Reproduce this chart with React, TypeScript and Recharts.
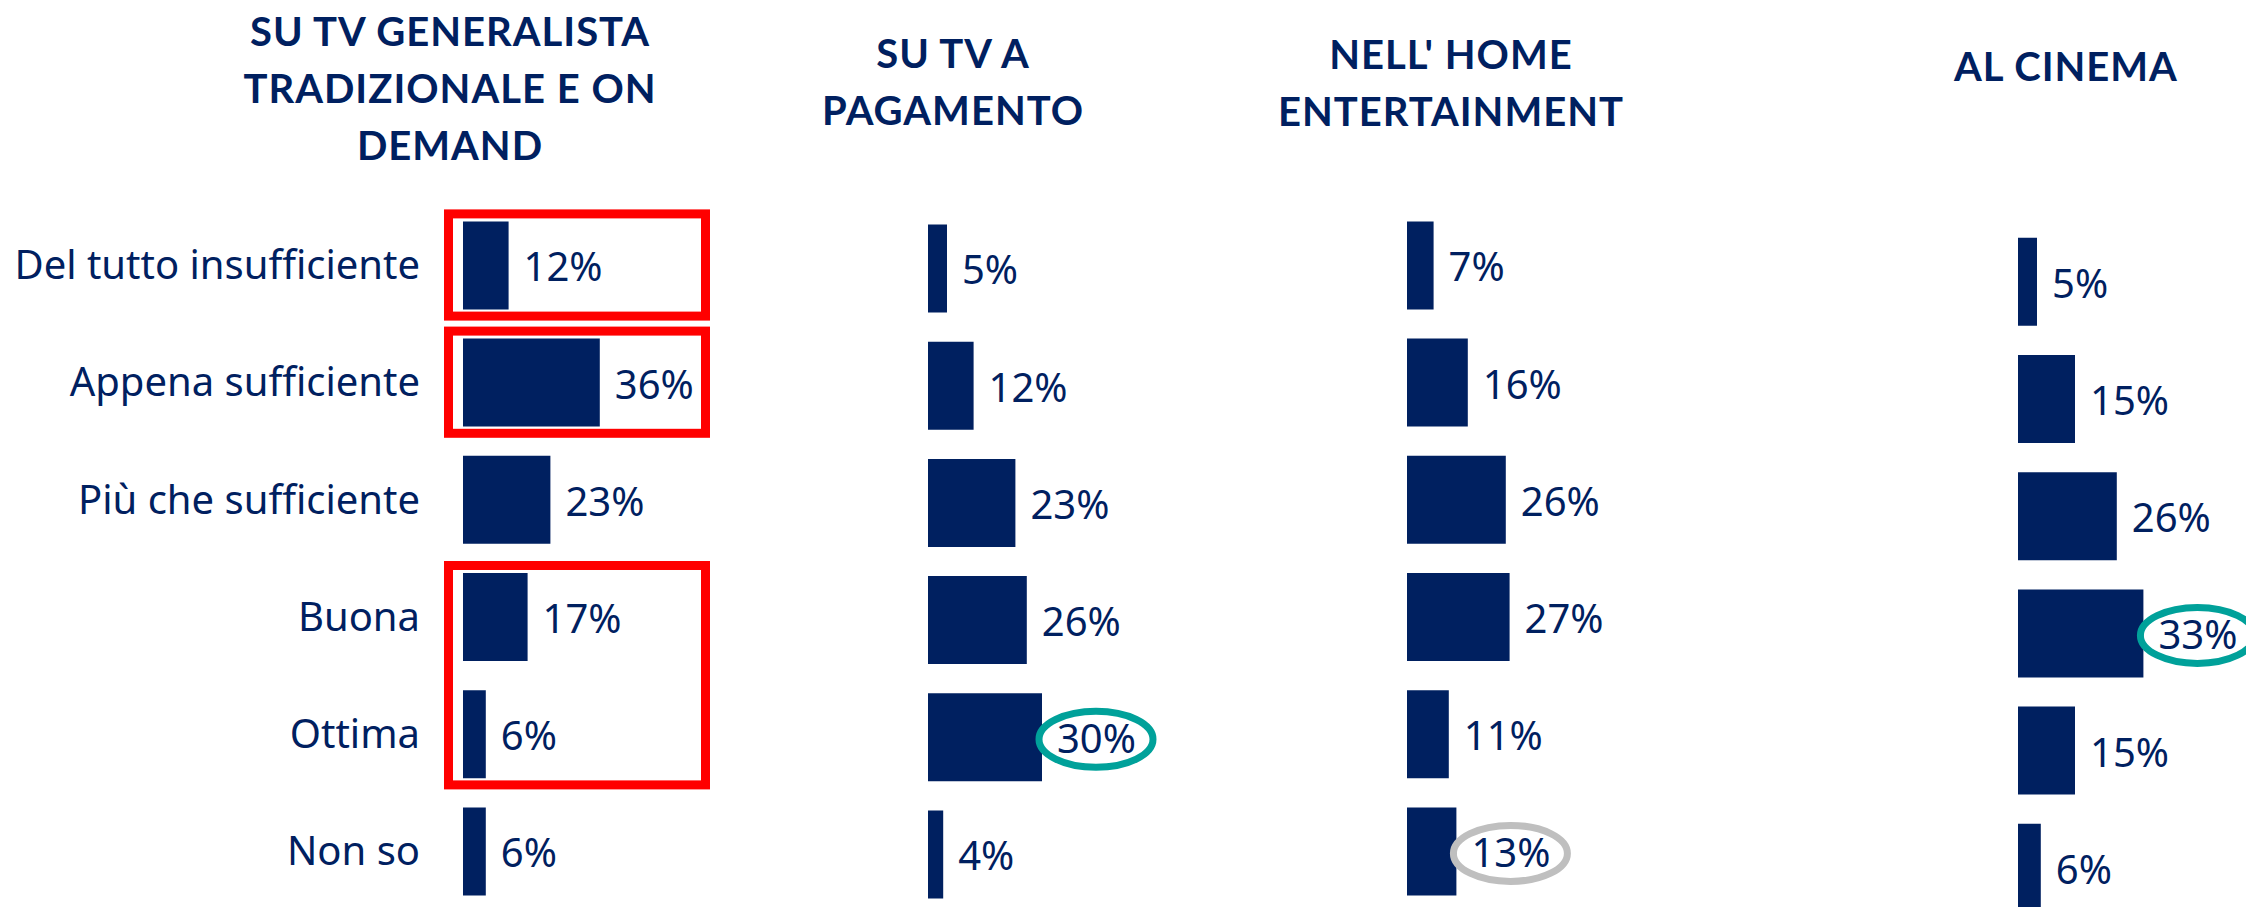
import React from 'react';
import { BarChart, Bar, XAxis, YAxis, LabelList, ReferenceArea } from 'recharts';

const categories = ['Del tutto insufficiente', 'Appena sufficiente', 'Più che sufficiente', 'Buona', 'Ottima', 'Non so'];

const tvGeneralista = [12, 36, 23, 17, 6, 6];
const tvPagamento = [5, 12, 23, 26, 30, 4];
const homeEntertainment = [7, 16, 26, 27, 11, 13];
const cinema = [5, 15, 26, 33, 15, 6];

// ring drawn around a value label ('' = none)
const ringsGeneralista = ['', '', '', '', '', ''];
const ringsPagamento = ['', '', '', '', 'teal', ''];
const ringsHome = ['', '', '', '', '', 'grey'];
const ringsCinema = ['', '', '', 'teal', '', ''];

const titleGeneralista = ['SU TV GENERALISTA', 'TRADIZIONALE E ON', 'DEMAND'];
const titlePagamento = ['SU TV A', 'PAGAMENTO'];
const titleHome = ["NELL' HOME", 'ENTERTAINMENT'];
const titleCinema = ['AL CINEMA'];

const NAVY = '#002060';
const RING_COLORS: { [k: string]: string } = { teal: '#00A19A', grey: '#BFBFBF' };
const FONT = '"Noto Sans", sans-serif';
const BAND = 117.2;
const PLOT_W = 190; // 50% of the x domain

const RedBox = (props: any) => {
  const { x, y, width, height } = props;
  const sw = 9;
  return (
    <rect
      x={x + sw / 2}
      y={y + 3 + sw / 2}
      width={width - sw}
      height={height - 6 - sw}
      fill="none"
      stroke="#FF0000"
      strokeWidth={sw}
    />
  );
};

const makeLabel = (rings: string[]) => (props: any) => {
  const vb = props.viewBox || {};
  const x = props.x ?? vb.x;
  const y = props.y ?? vb.y;
  const width = props.width ?? vb.width;
  const height = props.height ?? vb.height;
  const tx = x + width + 15;
  const cy = y + height / 2;
  const ring = rings[props.index];
  return (
    <g>
      {ring && (
        <ellipse cx={tx + 39} cy={cy + 2} rx={57} ry={28} fill="none" stroke={RING_COLORS[ring]} strokeWidth={7} />
      )}
      <text x={tx} y={cy + 16} fill={NAVY} fontSize={40} fontFamily={FONT}>
        {`${props.value}%`}
      </text>
    </g>
  );
};

interface PanelProps {
  left: number;
  top: number;
  values: number[];
  rings: string[];
  axisWidth?: number;
  boxes?: boolean;
}

const Panel: React.FC<PanelProps> = ({ left, top, values, rings, axisWidth = 0, boxes = false }) => {
  const data = categories.map((name, i) => ({ name, value: values[i] }));
  const width = axisWidth + PLOT_W + 200;
  return (
    <div style={{ position: 'absolute', left, top: 0 }}>
      <BarChart
        width={width}
        height={top + BAND * 6}
        data={data}
        layout="vertical"
        margin={{ top, right: 200, left: 0, bottom: 0 }}
      >
        <XAxis type="number" domain={[0, 50]} hide />
        {axisWidth > 0 ? (
          <YAxis
            type="category"
            dataKey="name"
            width={axisWidth}
            axisLine={false}
            tickLine={false}
            tickSize={0}
            tickMargin={43}
            interval={0}
            tick={{ fill: NAVY, fontSize: 40, fontFamily: FONT }}
          />
        ) : (
          <YAxis type="category" dataKey="name" hide />
        )}
        {boxes && (
          <ReferenceArea x1={-5} x2={65} y1={categories[0]} y2={categories[0]} ifOverflow="visible" shape={RedBox} />
        )}
        {boxes && (
          <ReferenceArea x1={-5} x2={65} y1={categories[1]} y2={categories[1]} ifOverflow="visible" shape={RedBox} />
        )}
        {boxes && (
          <ReferenceArea x1={-5} x2={65} y1={categories[3]} y2={categories[4]} ifOverflow="visible" shape={RedBox} />
        )}
        <Bar dataKey="value" fill={NAVY} barSize={88} isAnimationActive={false}>
          <LabelList dataKey="value" content={makeLabel(rings)} />
        </Bar>
      </BarChart>
    </div>
  );
};

const Title = ({ lines, cx, top }: { lines: string[]; cx: number; top: number }) => (
  <div
    style={{
      position: 'absolute',
      left: cx - 300,
      top,
      width: 600,
      textAlign: 'center',
      fontFamily: 'Lato, sans-serif',
      fontWeight: 700,
      fontSize: 40,
      lineHeight: '57px',
      color: NAVY,
      letterSpacing: 1,
    }}
  >
    {lines.map((l) => (
      <div key={l}>{l}</div>
    ))}
  </div>
);

export default function App() {
  return (
    <div
      style={{
        position: 'absolute',
        left: 0,
        top: 0,
        width: 2246,
        height: 907,
        overflow: 'hidden',
        background: '#fff',
      }}
    >
      <Title lines={titleGeneralista} cx={450} top={3} />
      <Title lines={titlePagamento} cx={953} top={25} />
      <Title lines={titleHome} cx={1451} top={26} />
      <Title lines={titleCinema} cx={2066} top={38} />
      <Panel left={0} top={206.4} values={tvGeneralista} rings={ringsGeneralista} axisWidth={463} boxes />
      <Panel left={928} top={209.5} values={tvPagamento} rings={ringsPagamento} />
      <Panel left={1407} top={206.4} values={homeEntertainment} rings={ringsHome} />
      <Panel left={2018} top={222.8} values={cinema} rings={ringsCinema} />
    </div>
  );
}
